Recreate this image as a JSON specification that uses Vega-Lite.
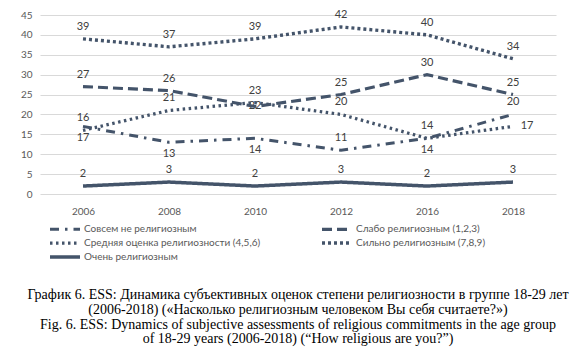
{
  "$schema": "https://vega.github.io/schema/vega-lite/v6.json",
  "width": 516,
  "height": 179,
  "autosize": {"type": "none"},
  "padding": {"left": 40, "top": 15, "right": 26, "bottom": 164},
  "background": "white",
  "config": {
    "view": {"stroke": null},
    "font": "Lato",
    "axis": {"labelFont": "Lato", "labelColor": "#595959", "labelFontSize": 10}
  },
  "title": {
    "text": [
      "График 6. ESS: Динамика субъективных оценок степени религиозности в группе 18-29 лет",
      "(2006-2018) («Насколько религиозным человеком Вы себя считаете?»)",
      "Fig. 6. ESS: Dynamics of subjective assessments of religious commitments in the age group",
      "of 18-29 years (2006-2018) (“How religious are you?”)"
    ],
    "orient": "bottom",
    "anchor": "middle",
    "font": "Liberation Serif",
    "fontSize": 14,
    "fontWeight": "normal",
    "color": "#000000",
    "lineHeight": 14.8,
    "offset": 24
  },
  "data": {
    "values": [
      {"series": "Совсем не религиозным", "year": "2006", "value": 17},
      {"series": "Совсем не религиозным", "year": "2008", "value": 13},
      {"series": "Совсем не религиозным", "year": "2010", "value": 14},
      {"series": "Совсем не религиозным", "year": "2012", "value": 11},
      {"series": "Совсем не религиозным", "year": "2016", "value": 14},
      {"series": "Совсем не религиозным", "year": "2018", "value": 20},
      {"series": "Слабо религиозным (1,2,3)", "year": "2006", "value": 27},
      {"series": "Слабо религиозным (1,2,3)", "year": "2008", "value": 26},
      {"series": "Слабо религиозным (1,2,3)", "year": "2010", "value": 22},
      {"series": "Слабо религиозным (1,2,3)", "year": "2012", "value": 25},
      {"series": "Слабо религиозным (1,2,3)", "year": "2016", "value": 30},
      {"series": "Слабо религиозным (1,2,3)", "year": "2018", "value": 25},
      {"series": "Средняя оценка религиозности (4,5,6)", "year": "2006", "value": 16},
      {"series": "Средняя оценка религиозности (4,5,6)", "year": "2008", "value": 21},
      {"series": "Средняя оценка религиозности (4,5,6)", "year": "2010", "value": 23},
      {"series": "Средняя оценка религиозности (4,5,6)", "year": "2012", "value": 20},
      {"series": "Средняя оценка религиозности (4,5,6)", "year": "2016", "value": 14},
      {"series": "Средняя оценка религиозности (4,5,6)", "year": "2018", "value": 17},
      {"series": "Сильно религиозным (7,8,9)", "year": "2006", "value": 39},
      {"series": "Сильно религиозным (7,8,9)", "year": "2008", "value": 37},
      {"series": "Сильно религиозным (7,8,9)", "year": "2010", "value": 39},
      {"series": "Сильно религиозным (7,8,9)", "year": "2012", "value": 42},
      {"series": "Сильно религиозным (7,8,9)", "year": "2016", "value": 40},
      {"series": "Сильно религиозным (7,8,9)", "year": "2018", "value": 34},
      {"series": "Очень религиозным", "year": "2006", "value": 2},
      {"series": "Очень религиозным", "year": "2008", "value": 3},
      {"series": "Очень религиозным", "year": "2010", "value": 2},
      {"series": "Очень религиозным", "year": "2012", "value": 3},
      {"series": "Очень религиозным", "year": "2016", "value": 2},
      {"series": "Очень религиозным", "year": "2018", "value": 3}
    ]
  },
  "encoding": {
    "x": {
      "field": "year", "type": "ordinal",
      "scale": {"type": "point", "padding": 0.5},
      "axis": {"title": null, "labelAngle": 0, "domain": false, "ticks": false, "labelPadding": 12, "grid": false}
    },
    "y": {
      "field": "value", "type": "quantitative",
      "scale": {"domain": [0, 45], "nice": false},
      "axis": {"title": null, "values": [0,5,10,15,20,25,30,35,40,45], "domain": false, "ticks": false, "labelPadding": 8, "gridColor": "#d9d9d9", "gridWidth": 1}
    }
  },
  "layer": [
    {
      "transform": [{"filter": "datum.series === 'Слабо религиозным (1,2,3)' && datum.year === '2010'"}],
      "mark": {"type": "text", "fontSize": 11, "color": "#404040", "dy": 0},
      "encoding": {"text": {"field": "value"}}
    },
    {
      "mark": {"type": "line", "color": "#44546a", "strokeCap": "butt"},
      "encoding": {
        "detail": {"field": "series"},
        "strokeDash": {
          "field": "series", "type": "nominal",
          "scale": {
            "domain": ["Совсем не религиозным", "Слабо религиозным (1,2,3)", "Средняя оценка религиозности (4,5,6)", "Сильно религиозным (7,8,9)", "Очень религиозным"],
            "range": [[9,6,2.5,6],[10,5],[2.5,3.5],[3,3],[1,0]]
          },
          "legend": {
            "title": null, "orient": "none", "legendX": 18, "legendY": 207, "direction": "horizontal",
            "columns": 2, "columnPadding": 54, "rowPadding": 0,
            "symbolType": "M-3,0H3", "symbolSize": 100, "symbolStrokeColor": "#44546a",
            "labelFont": "Lato", "labelFontSize": 10, "labelColor": "#595959", "labelOffset": 12, "labelLimit": 300
          }
        },
        "strokeWidth": {
          "field": "series", "type": "nominal",
          "scale": {
            "domain": ["Совсем не религиозным", "Слабо религиозным (1,2,3)", "Средняя оценка религиозности (4,5,6)", "Сильно религиозным (7,8,9)", "Очень религиозным"],
            "range": [3, 3.5, 2.5, 2.5, 3.5]
          },
          "legend": null
        }
      }
    },
    {
      "transform": [{"filter": "!((datum.series === 'Совсем не религиозным' && (datum.year === '2006' || datum.year === '2008' || datum.year === '2010')) || (datum.series === 'Средняя оценка религиозности (4,5,6)' && (datum.year === '2016' || datum.year === '2018')) || (datum.series === 'Слабо религиозным (1,2,3)' && datum.year === '2010'))"}],
      "mark": {"type": "text", "fontSize": 11, "color": "#404040", "dy": -12},
      "encoding": {"text": {"field": "value"}}
    },
    {
      "transform": [{"filter": "(datum.series === 'Совсем не религиозным' && (datum.year === '2006' || datum.year === '2008' || datum.year === '2010')) || (datum.series === 'Средняя оценка религиозности (4,5,6)' && datum.year === '2016')"}],
      "mark": {"type": "text", "fontSize": 11, "color": "#404040", "dy": 12},
      "encoding": {"text": {"field": "value"}}
    },
    {
      "transform": [{"filter": "datum.series === 'Средняя оценка религиозности (4,5,6)' && datum.year === '2018'"}],
      "mark": {"type": "text", "fontSize": 11, "color": "#404040", "dx": 14, "dy": 0},
      "encoding": {"text": {"field": "value"}}
    }
  ]
}
